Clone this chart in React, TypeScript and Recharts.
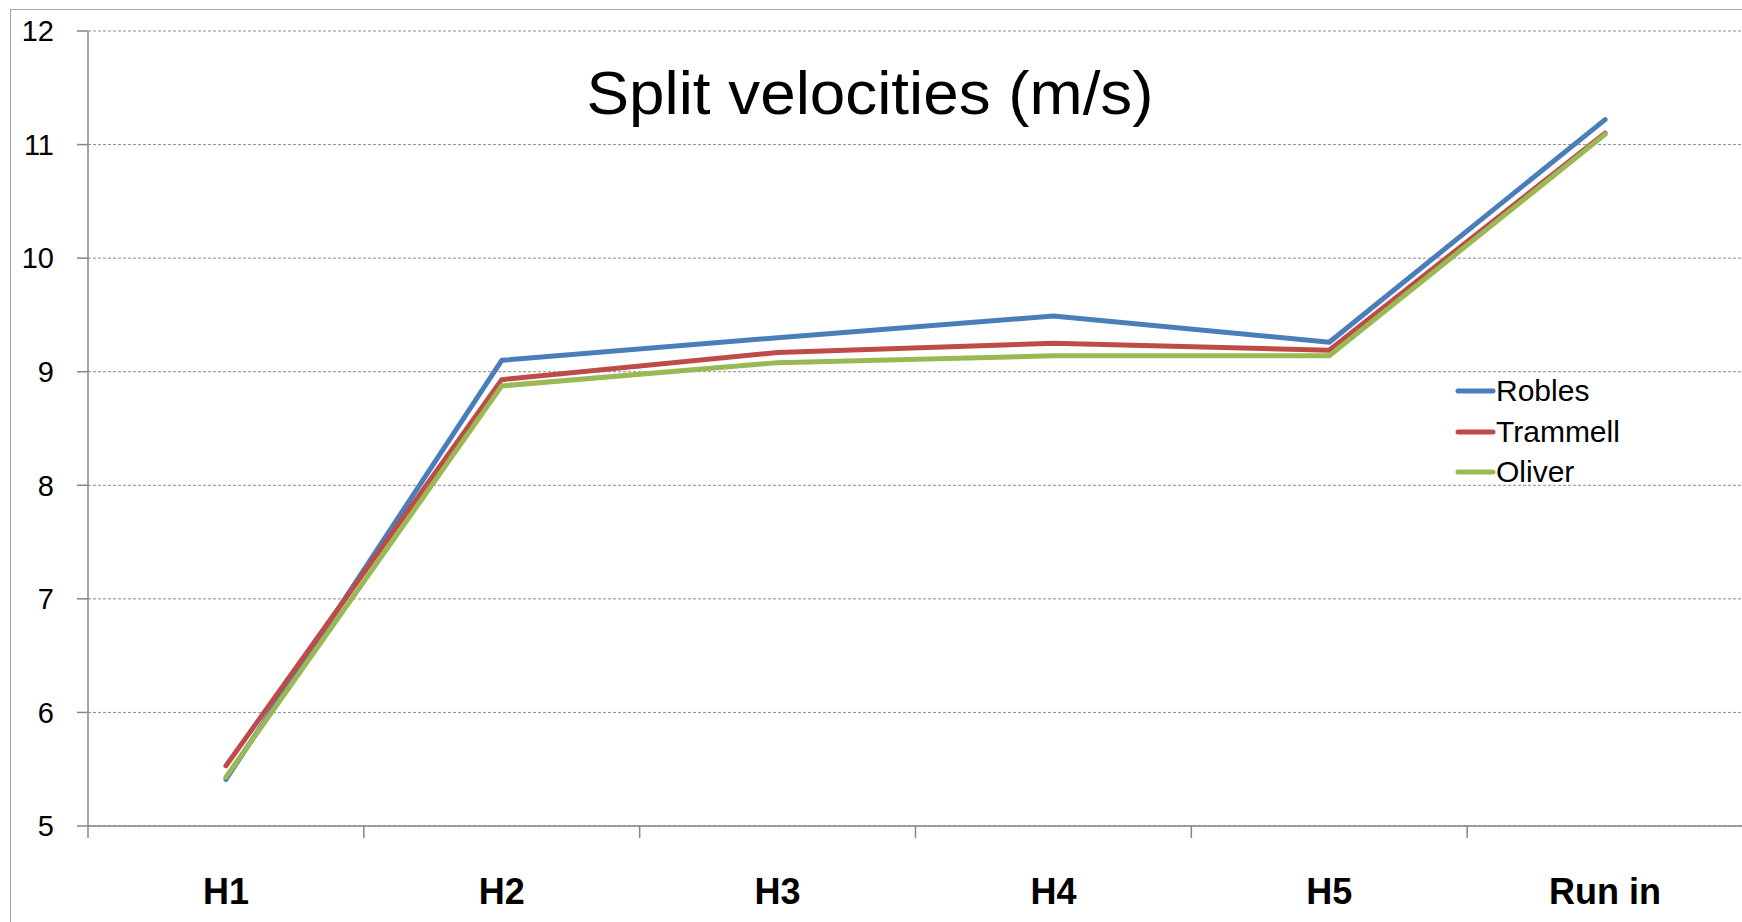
import { LineChart, Line, XAxis, YAxis, CartesianGrid } from "recharts";

const categories = ["H1", "H2", "H3", "H4", "H5", "Run in"];
const robles = [5.41, 9.1, 9.3, 9.49, 9.26, 11.22];
const trammell = [5.53, 8.93, 9.17, 9.25, 9.19, 11.1];
const oliver = [5.43, 8.875, 9.08, 9.14, 9.14, 11.09];
const yTicks = [5, 6, 7, 8, 9, 10, 11, 12];

const SERIES = [
  { key: "Robles", color: "#4a7ebb" },
  { key: "Trammell", color: "#be4b48" },
  { key: "Oliver", color: "#98b954" },
];

const data = categories.map((name, i) => ({
  name,
  Robles: robles[i],
  Trammell: trammell[i],
  Oliver: oliver[i],
}));

const CHART_W = 1760;
const CHART_H = 922;
const PLOT_LEFT = 88;
const PLOT_RIGHT = 1743;
const BAND = (PLOT_RIGHT - PLOT_LEFT) / categories.length;
const FONT = "'Liberation Sans', Arial, sans-serif";
const AXIS = "#868686";

function CategoryTick(props: any) {
  const { x, y, payload } = props;
  const left = x - BAND / 2;
  return (
    <g>
      <line x1={left} y1={y} x2={left} y2={y + 12} stroke={AXIS} strokeWidth={1.5} />
      <text
        x={x}
        y={y + 78}
        textAnchor="middle"
        fontFamily={FONT}
        fontWeight="bold"
        fontSize={36}
        fill="#000"
      >
        {payload.value}
      </text>
    </g>
  );
}

function LegendBox() {
  return (
    <div
      style={{
        position: "absolute",
        left: 1455,
        top: 371,
        fontFamily: FONT,
        fontSize: 30,
        color: "#000",
      }}
    >
      {SERIES.map((s) => (
        <div key={s.key} style={{ display: "flex", alignItems: "center", height: 40.5 }}>
          <svg width={41} height={10}>
            <line x1={3} y1={5} x2={38} y2={5} stroke={s.color} strokeWidth={5} strokeLinecap="round" />
          </svg>
          <span style={{ lineHeight: "40px" }}>{s.key}</span>
        </div>
      ))}
    </div>
  );
}

export default function App() {
  return (
    <div
      style={{
        position: "fixed",
        left: 0,
        top: 0,
        width: 1742,
        height: 922,
        overflow: "hidden",
        background: "#fff",
      }}
    >
      <div
        style={{
          position: "absolute",
          left: 10,
          top: 9,
          width: 1800,
          height: 1000,
          border: "1.5px solid #a6a6a6",
        }}
      />
      <div style={{ position: "absolute", left: 0, top: 0 }}>
        <LineChart
          width={CHART_W}
          height={CHART_H}
          data={data}
          margin={{ top: 31, right: CHART_W - PLOT_RIGHT, bottom: 0, left: 10 }}
        >
          <CartesianGrid
            vertical={false}
            stroke="#8c8c8c"
            strokeDasharray="3 2"
          />
          <XAxis
            dataKey="name"
            scale="band"
            height={96}
            axisLine={{ stroke: AXIS, strokeWidth: 1.5 }}
            tickLine={false}
            tickSize={0}
            tickMargin={0}
            interval={0}
            tick={<CategoryTick />}
          />
          <YAxis
            width={78}
            domain={[5, 12]}
            ticks={yTicks}
            interval={0}
            axisLine={{ stroke: AXIS, strokeWidth: 1.5 }}
            tickLine={{ stroke: AXIS, strokeWidth: 1.5 }}
            tickSize={11}
            tickMargin={23}
            tick={{ fontFamily: FONT, fontSize: 29, fill: "#000" }}
          />
          {SERIES.map((s) => (
            <Line
              key={s.key}
              type="linear"
              dataKey={s.key}
              stroke={s.color}
              strokeWidth={5}
              strokeLinecap="round"
              strokeLinejoin="round"
              dot={false}
              activeDot={false}
              isAnimationActive={false}
            />
          ))}
        </LineChart>
      </div>
      <LegendBox />
      <svg
        width={1742}
        height={922}
        style={{ position: "absolute", left: 0, top: 0, pointerEvents: "none" }}
      >
        <text
          x={870}
          y={114}
          textAnchor="middle"
          fontFamily={FONT}
          fontSize={62}
          textLength={567}
          lengthAdjust="spacingAndGlyphs"
          fill="#000"
        >
          Split velocities (m/s)
        </text>
      </svg>
    </div>
  );
}
